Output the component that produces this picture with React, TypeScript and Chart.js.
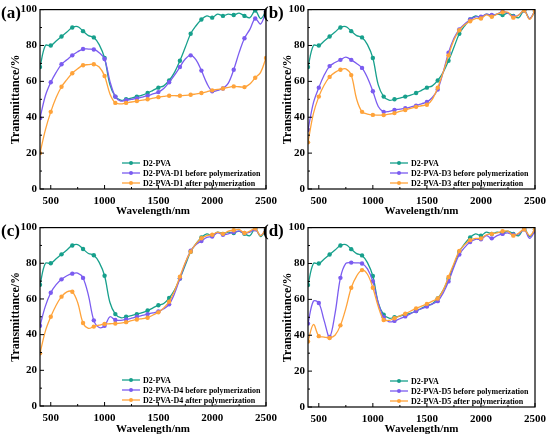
import { useEffect, useRef } from 'react'
import { Chart, registerables } from 'chart.js'

Chart.register(...registerables)

const FONT = '"Liberation Serif", "Times New Roman", serif'
const TEAL = '#17a08c'
const PURPLE = '#7b5cf0'
const ORANGE = '#ffa33a'

// sampled every 50 nm, markers sit on the 100 nm points
const wavelengths = [
  400, 450, 500, 550, 600, 650, 700, 750, 800, 850, 900, 950, 1000, 1050, 1100,
  1150, 1200, 1250, 1300, 1350, 1400, 1450, 1500, 1550, 1600, 1650, 1700, 1750,
  1800, 1850, 1900, 1950, 2000, 2050, 2100, 2150, 2200, 2250, 2300, 2350, 2400,
  2450, 2500,
]
const xTicks = [500, 1000, 1500, 2000, 2500]
const xMinor = [750, 1250, 1750, 2250]
const yTicks = [0, 20, 40, 60, 80, 100]
const yMinor = [10, 30, 50, 70, 90]

const pva = [
  68, 80, 80, 82.5, 85, 87.5, 90, 90.5, 88, 85.5, 84.5, 80.5, 73, 58, 51.5,
  49.5, 50, 50.7, 51.5, 52.3, 53.5, 55, 56.5, 57.5, 60.5, 65, 71.5, 79,
  86.5, 91, 94.5, 96.5, 95.5, 97.5, 96.5, 97.5, 97, 98, 96.5, 95.5, 99.5,
  95, 99,
]

const d1Before = [
  39.5, 52, 59.5, 65, 69.5, 72, 74.5, 76.5, 78, 78, 77.8, 76, 72.5, 60, 51.5,
  49, 49.5, 50, 50.5, 51.2, 52, 53, 54, 56, 59.5, 63.5, 68, 72.5,
  74.5, 72, 66, 59, 54.5, 55, 56, 59, 66.5, 76, 84, 89, 95,
  92, 99,
]
const d1After = [
  20, 33, 43, 51, 57, 61, 64.5, 67, 69, 69.3, 69.5, 68, 63, 53, 48,
  47.5, 48, 48.5, 49, 49.5, 50, 50.6, 51.2, 51.6, 52, 52, 52, 52.2,
  52.5, 53, 53.5, 54.2, 55, 55.5, 56, 56.7, 57.2, 57, 56.8, 58.5, 62,
  65, 73,
]

const d3Before = [
  33, 48, 56.5, 63.5, 68.5, 70.5, 72, 73.5, 72, 70, 67.5, 62, 54.5, 46, 43,
  43.3, 44, 44.5, 45, 45.7, 46.5, 47.5, 48.5, 51, 55.5, 65, 76, 84,
  89, 92, 94.5, 96, 96, 97.5, 97, 97.5, 99, 98, 96, 97, 99.5,
  95, 99.5,
]
const d3After = [
  26, 42, 51.5, 58, 62.5, 65, 66.5, 67, 63.5, 50, 43, 41.8, 41.3, 41.2, 41.2,
  41.7, 42.3, 43.2, 44, 45, 45.8, 46.4, 47, 50, 56.5, 65, 74.5, 83,
  88.5, 91.5, 93.5, 95, 95, 97, 96, 97.5, 98.5, 98.5, 95.5, 97, 99.5,
  94.5, 99.5,
]

const d4Before = [
  45, 56, 63.5, 68, 71, 73, 74.2, 74.5, 71.8, 62, 48, 44, 45, 50, 48.2,
  48, 48.5, 49.2, 50, 50.8, 51.5, 52.2, 53, 54.5, 57, 63, 71.5, 80,
  87, 90.5, 92.5, 94.5, 95, 97, 96, 96.5, 97.5, 98, 97, 97.5, 99,
  95.5, 99.5,
]
const d4After = [
  29.5, 42, 50, 56.5, 61.3, 64, 64, 58, 46.5, 43.5, 44.5, 45.3, 46, 46.1, 46.2,
  46.5, 47, 47.8, 48.5, 49, 49.5, 51, 52.5, 55, 58.5, 64.5, 72.5, 80.5,
  86.5, 91, 94, 95.5, 96, 97.5, 96.5, 98, 98.5, 99, 97, 98, 99.5,
  95.5, 99.5,
]

const d5Before = [
  46.5, 59, 58, 48, 39, 52, 72, 80, 80.5, 80.3, 80, 77, 70, 58, 50,
  47.5, 48, 49.2, 50.5, 52, 53.5, 54.8, 56, 57.5, 59, 63.5, 70, 78,
  85, 89, 92, 93.5, 93.5, 95.5, 94, 95.5, 96.5, 97, 96, 96.5, 99,
  94, 98,
]
const d5After = [
  36.5, 46, 39.5, 39, 38.5, 40, 45.5, 55, 66.5, 73, 76.3, 74, 66.5, 56, 48.5,
  48.3, 49.5, 50.8, 52, 53.5, 55, 56.2, 57.5, 59, 60.5, 65, 72.5, 80,
  87, 90.5, 93, 94, 94, 96, 96.5, 97, 98, 98, 95.5, 97, 99,
  95.5, 99,
]

const PANEL_W = 275
const PANEL_H = 218
const CANVAS_W = 290

const framePlugin = {
  id: 'frameTicksLegend',
  afterDraw(chart: any) {
    const { ctx, chartArea: a, scales } = chart
    ctx.save()
    ctx.strokeStyle = '#000'
    ctx.lineWidth = 1.2
    ctx.strokeRect(a.left, a.top, a.right - a.left, a.bottom - a.top)

    ctx.lineWidth = 1
    ctx.beginPath()
    xTicks.forEach((v) => {
      const px = scales.x.getPixelForValue(v)
      ctx.moveTo(px, a.bottom)
      ctx.lineTo(px, a.bottom - 4)
    })
    xMinor.forEach((v) => {
      const px = scales.x.getPixelForValue(v)
      ctx.moveTo(px, a.bottom)
      ctx.lineTo(px, a.bottom - 2)
    })
    yTicks.forEach((v) => {
      const py = scales.y.getPixelForValue(v)
      ctx.moveTo(a.left, py)
      ctx.lineTo(a.left + 4, py)
    })
    yMinor.forEach((v) => {
      const py = scales.y.getPixelForValue(v)
      ctx.moveTo(a.left, py)
      ctx.lineTo(a.left + 2, py)
    })
    ctx.stroke()

    // legend inside the lower part of the plot
    const x0 = a.left + 82
    ctx.font = `bold 8px ${FONT}`
    ctx.textBaseline = 'middle'
    chart.data.datasets.forEach((ds: any, i: number) => {
      const y = a.bottom - 26 + i * 10
      ctx.strokeStyle = ds.borderColor
      ctx.lineWidth = 1.3
      ctx.beginPath()
      ctx.moveTo(x0, y)
      ctx.lineTo(x0 + 18, y)
      ctx.stroke()
      ctx.fillStyle = ds.borderColor
      ctx.beginPath()
      ctx.arc(x0 + 9, y, 2, 0, Math.PI * 2)
      ctx.fill()
      ctx.fillStyle = '#000'
      ctx.fillText(ds.label, x0 + 21, y + 0.5)
    })
    ctx.restore()
  },
}

type PanelProps = {
  tag: string
  dopant: string
  before: number[]
  after: number[]
  left: number
  top: number
  plotLeft: number
  plotRight: number
  plotTop: number
  plotBottom: number
  titlePad: number
}

function Panel({ tag, dopant, before, after, left, top, plotLeft, plotRight, plotTop, plotBottom, titlePad }: PanelProps) {
  const canvasRef = useRef<HTMLCanvasElement>(null)
  const chartRef = useRef<Chart | null>(null)

  useEffect(() => {
    if (!canvasRef.current) return
    if (chartRef.current) chartRef.current.destroy()

    const toPoints = (vals: number[]) => vals.map((y, i) => ({ x: wavelengths[i], y }))
    const markerRadius = (c: any) => (wavelengths[c.dataIndex] % 100 === 0 ? 2.2 : 0)

    const makeSet = (label: string, vals: number[], color: string, order: number) => ({
      label,
      data: toPoints(vals),
      borderColor: color,
      backgroundColor: color,
      borderWidth: 1.3,
      pointRadius: markerRadius,
      pointBorderWidth: 0,
      tension: 0.35,
      order,
    })

    chartRef.current = new Chart(canvasRef.current, {
      type: 'line',
      data: {
        datasets: [
          makeSet('D2-PVA', pva, TEAL, 3),
          makeSet(`D2-PVA-${dopant} before polymerization`, before, PURPLE, 2),
          makeSet(`D2-PVA-${dopant} after polymerization`, after, ORANGE, 1),
        ],
      },
      options: {
        responsive: false,
        animation: false,
        layout: {
          padding: { left: 0, right: CANVAS_W - plotRight, top: plotTop, bottom: 0 },
        },
        plugins: {
          legend: { display: false },
          tooltip: { enabled: false },
        },
        scales: {
          x: {
            type: 'linear',
            min: 400,
            max: 2500,
            afterBuildTicks: (s: any) => {
              s.ticks = xTicks.map((v) => ({ value: v }))
            },
            afterFit: (s: any) => {
              s.height = PANEL_H - plotBottom
            },
            grid: { display: false, drawTicks: false },
            border: { display: false },
            ticks: {
              color: '#000',
              padding: 6,
              maxRotation: 0,
              callback: (v: any) => String(v),
              font: { family: FONT, size: 11, weight: 'bold' },
            },
            title: {
              display: true,
              text: 'Wavelength/nm',
              color: '#000',
              padding: { top: 0, bottom: 0 },
              font: { family: FONT, size: 11, weight: 'bold' },
            },
          },
          y: {
            min: 0,
            max: 100,
            afterBuildTicks: (s: any) => {
              s.ticks = yTicks.map((v) => ({ value: v }))
            },
            afterFit: (s: any) => {
              s.width = plotLeft
            },
            grid: { display: false, drawTicks: false },
            border: { display: false },
            ticks: {
              color: '#000',
              padding: 3,
              callback: (v: any) => String(v),
              font: { family: FONT, size: 11, weight: 'bold' },
            },
            title: {
              display: true,
              text: 'Transmittance/%',
              color: '#000',
              padding: { top: titlePad, bottom: 0 },
              font: { family: FONT, size: 12, weight: 'bold' },
            },
          },
        },
      },
      plugins: [framePlugin],
    } as any)

    return () => {
      if (chartRef.current) {
        chartRef.current.destroy()
        chartRef.current = null
      }
    }
  }, [dopant, before, after, plotLeft, plotRight, plotTop, plotBottom, titlePad])

  return (
    <>
      <div style={{ position: 'absolute', left, top, width: CANVAS_W, height: PANEL_H }}>
        <canvas ref={canvasRef} width={CANVAS_W} height={PANEL_H}></canvas>
      </div>
      <div
        style={{
          position: 'absolute',
          left: left + (left === 0 ? 1 : -12),
          top: top + 3,
          fontFamily: FONT,
          fontWeight: 'bold',
          fontSize: 17,
          lineHeight: '20px',
          color: '#000',
          zIndex: 2,
        }}
      >
        {tag}
      </div>
    </>
  )
}

export default function App() {
  return (
    <div style={{ position: 'fixed', left: 0, top: 0, width: 550, height: 436, background: '#fff', overflow: 'hidden' }}>
      <Panel tag="(a)" dopant="D1" before={d1Before} after={d1After} left={0} top={0}
        plotLeft={40} plotRight={266} plotTop={8} plotBottom={189} titlePad={9} />
      <Panel tag="(b)" dopant="D3" before={d3Before} after={d3After} left={275} top={0}
        plotLeft={33} plotRight={260} plotTop={8} plotBottom={189} titlePad={6} />
      <Panel tag="(c)" dopant="D4" before={d4Before} after={d4After} left={0} top={218}
        plotLeft={40} plotRight={266} plotTop={6} plotBottom={188} titlePad={9} />
      <Panel tag="(d)" dopant="D5" before={d5Before} after={d5After} left={275} top={218}
        plotLeft={33} plotRight={260} plotTop={7} plotBottom={189} titlePad={6} />
    </div>
  )
}
